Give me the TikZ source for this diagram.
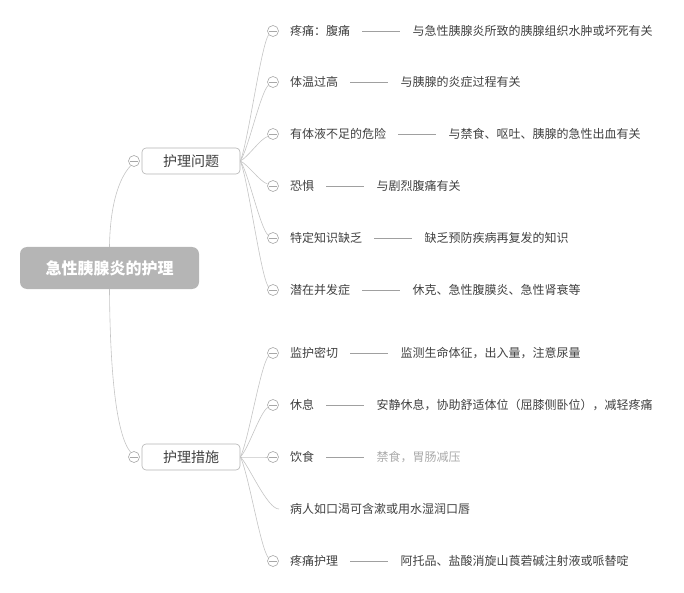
\documentclass[tikz,border=0pt]{standalone}
\usepackage{fontspec}
\setmainfont{Noto Sans CJK SC}
\definecolor{txtgray}{HTML}{404040}
\definecolor{lightgray}{HTML}{AAAAAA}
\definecolor{linegray}{HTML}{C4C4C4}
\definecolor{dashgray}{HTML}{A0A0A0}
\definecolor{circgray}{HTML}{A8A8A8}
\definecolor{boxgray}{HTML}{B4B4B4}
\definecolor{rootgray}{HTML}{B5B5B5}
\tikzset{
  txt/.style={anchor=west, inner sep=0pt, text=txtgray, font=\fontsize{12}{14}\selectfont},
  conn/.style={draw=linegray, line width=0.6pt},
  dashln/.style={draw=dashgray, line width=0.6pt},
  tog/.style={circle, draw=circgray, fill=white, minimum size=11pt, inner sep=0pt, line width=0.6pt,
    path picture={\draw[circgray, line width=0.6pt] ([xshift=-4pt]path picture bounding box.center) -- ([xshift=4pt]path picture bounding box.center);}},
  mainbox/.style={rounded corners=4pt, draw=boxgray, fill=white, minimum width=98pt, minimum height=26pt, inner sep=0pt,
    font=\fontsize{14}{16}\selectfont, text=txtgray, line width=0.6pt},
  rootbox/.style={rounded corners=7pt, fill=rootgray, minimum width=179pt, minimum height=42pt, inner sep=0pt,
    font=\fontsize{16}{18}\selectfont\bfseries, text=white}
}
\begin{document}
\begin{tikzpicture}[x=1pt, y=-1pt]
\useasboundingbox (0,0) rectangle (684,593);
% main nodes
\node[rootbox] (root) at (109.5,268) {急性胰腺炎的护理};
\node[mainbox] (q) at (191,161) {护理问题};
\node[mainbox] (m) at (191,457) {护理措施};
\node[tog] (cq) at (134,161) {};
\node[tog] (cm) at (134,457) {};
% root connectors
\draw[conn] (root.north) .. controls (110,205) and (119,178) .. (cq.235);
\draw[conn] (root.south) .. controls (110,370) and (116,435) .. (cm.125);
% child toggles
\foreach \n/\y in {q1/31, q2/82, q3/134, q4/186, q5/238, q6/290,
                   m1/353, m2/405, m3/457, m5/561}{
  \node[tog] (c\n) at (273,\y) {};
}
\foreach \n/\y/\a in {q1/31/220, q2/82/215, q3/134/205, q4/186/160, q5/238/150, q6/290/145}{
  \pgfmathsetmacro\da{(\y-161)*0.15}
  \pgfmathsetmacro\db{-(\y-161)*0.1}
  \draw[conn] (q.east) .. controls +(8,\da) and +(-8,\db) .. (c\n.\a);
}
\foreach \n/\y/\a in {m1/353/215, m2/405/205, m3/457/180, m5/561/145}{
  \pgfmathsetmacro\da{(\y-457)*0.15}
  \pgfmathsetmacro\db{-(\y-457)*0.1}
  \draw[conn] (m.east) .. controls +(8,\da) and +(-8,\db) .. (c\n.\a);
}
\coordinate (e4) at (279,509);
\draw[conn] (m.east) .. controls +(8,7) and +(-12,0) .. (e4);
% texts: problems
\node[txt] (t1) at (290,31) {疼痛：腹痛};
\node[txt] (d1) at ([xshift=62pt]t1.east) {与急性胰腺炎所致的胰腺组织水肿或坏死有关};
\node[txt] (t2) at (290,82) {体温过高};
\node[txt] (d2) at ([xshift=62pt]t2.east) {与胰腺的炎症过程有关};
\node[txt] (t3) at (290,134) {有体液不足的危险};
\node[txt] (d3) at ([xshift=62pt]t3.east) {与禁食、呕吐、胰腺的急性出血有关};
\node[txt] (t4) at (290,186) {恐惧};
\node[txt] (d4) at ([xshift=62pt]t4.east) {与剧烈腹痛有关};
\node[txt] (t5) at (290,238) {特定知识缺乏};
\node[txt] (d5) at ([xshift=62pt]t5.east) {缺乏预防疾病再复发的知识};
\node[txt] (t6) at (290,290) {潜在并发症};
\node[txt] (d6) at ([xshift=62pt]t6.east) {休克、急性腹膜炎、急性肾衰等};
% texts: measures
\node[txt] (t7) at (290,353) {监护密切};
\node[txt] (d7) at ([xshift=62pt]t7.east) {监测生命体征，出入量，注意尿量};
\node[txt] (t8) at (290,405) {休息};
\node[txt] (d8) at ([xshift=62pt]t8.east) {安静休息，协助舒适体位（屈膝侧卧位），减轻疼痛};
\node[txt] (t9) at (290,457) {饮食};
\node[txt, text=lightgray] (d9) at ([xshift=62pt]t9.east) {禁食，胃肠减压};
\node[txt] (t10) at (290,509) {病人如口渴可含漱或用水湿润口唇};
\node[txt] (t11) at (290,561) {疼痛护理};
\node[txt] (d11) at ([xshift=62pt]t11.east) {阿托品、盐酸消旋山莨菪碱注射液或哌替啶};
% dash connectors
\foreach \i in {1,2,3,4,5,6,7,8,9,11}{
  \draw[dashln] ([xshift=12pt]t\i.east) -- ([xshift=-12pt]d\i.west);
}
\end{tikzpicture}
\end{document}
